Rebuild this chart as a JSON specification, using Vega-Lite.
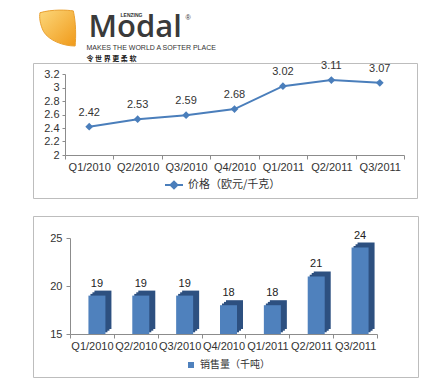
{
  "$schema": "https://vega.github.io/schema/vega-lite/v6.json",
  "padding": {"left": 32, "top": 8, "right": 0, "bottom": 0},
  "background": "white",
  "config": {
    "view": {"stroke": null},
    "font": "Liberation Sans",
    "axis": {"labelFont": "Liberation Sans", "labelFontSize": 11, "labelColor": "#333333", "domainColor": "#8c8c8c", "tickColor": "#8c8c8c", "grid": false},
    "legend": {"labelFont": "Noto Sans CJK SC", "labelFontSize": 11, "labelColor": "#333333", "padding": 0}
  },
  "datasets": {
    "price": [
      {"q": "Q1/2010", "price": 2.42},
      {"q": "Q2/2010", "price": 2.53},
      {"q": "Q3/2010", "price": 2.59},
      {"q": "Q4/2010", "price": 2.68},
      {"q": "Q1/2011", "price": 3.02},
      {"q": "Q2/2011", "price": 3.11},
      {"q": "Q3/2011", "price": 3.07}
    ],
    "sales": [
      {"q": "Q1/2010", "sales": 19},
      {"q": "Q2/2010", "sales": 19},
      {"q": "Q3/2010", "sales": 19},
      {"q": "Q4/2010", "sales": 18},
      {"q": "Q1/2011", "sales": 18},
      {"q": "Q2/2011", "sales": 21},
      {"q": "Q3/2011", "sales": 24}
    ],
    "logo": [{"logo": "Modal"}]
  },
  "spacing": -3,
  "resolve": {"scale": {"color": "independent"}, "legend": {"color": "independent"}},
  "vconcat": [
    {
      "width": 385, "height": 46,
      "data": {"name": "logo"},
      "layer": [
        {"mark": {"type": "point", "shape": "M-1,-0.85C-0.3,-1.05 0.5,-1 0.85,-0.95C1,-0.3 1,0.5 0.95,1C0.3,1 -0.5,0.7 -0.8,0.2C-1,-0.2 -1.05,-0.6 -1,-0.85Z", "size": 1296, "filled": true, "opacity": 1,
          "xOffset": -167.5, "yOffset": -6,
          "color": {"gradient": "linear", "x1": 0, "y1": 0, "x2": 1, "y2": 1, "stops": [{"offset": 0, "color": "#fcd77a"}, {"offset": 1, "color": "#f09a1a"}]},
          "stroke": "#e9a030", "strokeWidth": 1}},
        {"mark": {"type": "rule", "color": "#ffffff", "strokeWidth": 1.2, "xOffset": -183, "x2Offset": -154, "yOffset": -10, "y2Offset": -11}, "encoding": {}},
        {"mark": {"type": "rule", "color": "#ffffff", "strokeWidth": 1.2, "xOffset": -182, "x2Offset": -154, "yOffset": 0, "y2Offset": -1}, "encoding": {}},
        {"mark": {"type": "text", "text": "Modal", "align": "left", "baseline": "alphabetic", "dx": -137, "dy": 3, "font": "Open Sans", "fontSize": 31, "fontWeight": 600, "color": "#3a3a3a"}},
        {"mark": {"type": "text", "text": "LENZING", "align": "center", "baseline": "middle", "dx": -94, "dy": -19.5, "font": "Liberation Sans", "fontSize": 5, "fontWeight": "bold", "color": "#333333"}},
        {"mark": {"type": "text", "text": "®", "align": "left", "baseline": "middle", "dx": -40, "dy": -16, "font": "Liberation Sans", "fontSize": 7, "color": "#333333"}},
        {"mark": {"type": "text", "text": "MAKES THE WORLD A SOFTER PLACE", "align": "left", "baseline": "middle", "dx": -139, "dy": 13.5, "font": "Liberation Sans", "fontSize": 7, "color": "#333333"}},
        {"mark": {"type": "text", "text": "令 世 界 更 柔 软", "align": "left", "baseline": "middle", "dx": -139, "dy": 25, "font": "Noto Sans CJK SC", "fontSize": 7, "fontWeight": "bold", "color": "#222222"}}
      ]
    },
    {
      "spacing": 16,
      "resolve": {"scale": {"color": "independent"}, "legend": {"color": "independent"}},
      "vconcat": [
        {
          "width": 384, "height": 135,
          "view": {"stroke": "#bdbdbd"},
          "data": {"name": "price"},
          "encoding": {
            "x": {"field": "q", "type": "nominal", "sort": null,
              "scale": {"type": "band", "domain": ["Q1/2010", "Q2/2010", "Q3/2010", "Q4/2010", "Q1/2011", "Q2/2011", "Q3/2011"], "range": [32, 371], "paddingInner": 0, "paddingOuter": 0},
              "axis": {"title": null, "offset": -43, "labelAngle": 0, "tickBand": "extent", "tickSize": 4, "labelPadding": 2}},
            "y": {"field": "price", "type": "quantitative",
              "scale": {"domain": [2, 3.2], "range": [92, 11], "zero": false, "nice": false},
              "axis": {"title": null, "offset": -32, "values": [2, 2.2, 2.4, 2.6, 2.8, 3, 3.2], "format": "~g", "tickSize": 3, "labelPadding": 3}}
          },
          "layer": [
            {"mark": {"type": "line", "strokeWidth": 2},
             "encoding": {"color": {"datum": "价格（欧元/千克）", "type": "nominal", "scale": {"range": ["#4a7ebb"]},
               "legend": {"title": null, "orient": "none", "legendX": 131, "legendY": 112, "symbolType": "M-1,0L1,0M-0.38,0L0,-0.38L0.38,0L0,0.38Z", "symbolSize": 324, "symbolStrokeWidth": 2, "symbolFillColor": "#4a7ebb", "labelOffset": 4}}}},
            {"mark": {"type": "point", "shape": "diamond", "filled": true, "size": 60, "opacity": 1, "color": "#4a7ebb"}},
            {"mark": {"type": "text", "dy": -14, "fontSize": 11, "color": "#333333"},
             "encoding": {"text": {"field": "price", "type": "quantitative", "format": ".2f"}}}
          ]
        },
        {
          "width": 385, "height": 161,
          "view": {"stroke": "#bdbdbd"},
          "data": {"name": "sales"},
          "encoding": {
            "x": {"field": "q", "type": "nominal", "sort": null,
              "scale": {"type": "band", "domain": ["Q1/2010", "Q2/2010", "Q3/2010", "Q4/2010", "Q1/2011", "Q2/2011", "Q3/2011"], "range": [37, 344], "paddingInner": 0, "paddingOuter": 0},
              "axis": {"title": null, "offset": -43, "labelAngle": 0, "tickBand": "extent", "tickSize": 4, "labelPadding": 2}},
            "y": {"field": "sales", "type": "quantitative",
              "scale": {"domain": [15, 25], "range": [118, 22], "zero": false, "nice": false},
              "axis": {"title": null, "offset": -37, "values": [15, 20, 25], "tickSize": 4, "labelPadding": 4}}
          },
          "layer": [
            {"data": {"values": [{"floor": "back"}]},
             "mark": {"type": "rule", "color": "#c4c4c4", "xOffset": -5.9, "x2Offset": 37.9, "yOffset": -10},
             "encoding": {"x": {"datum": "Q1/2010"}, "x2": {"datum": "Q3/2011"}, "y": {"datum": 15}}},
            {"data": {"values": [{"floor": "left"}]},
             "mark": {"type": "rule", "color": "#c4c4c4", "xOffset": -21.9, "x2Offset": -5.9, "y2Offset": -10},
             "encoding": {"x": {"datum": "Q1/2010"}, "x2": {"datum": "Q1/2010"}, "y": {"datum": 15}, "y2": {"datum": 15}}},
            {"data": {"values": [{"floor": "right"}]},
             "mark": {"type": "rule", "color": "#c4c4c4", "xOffset": 21.9, "x2Offset": 37.9, "y2Offset": -10},
             "encoding": {"x": {"datum": "Q3/2011"}, "x2": {"datum": "Q3/2011"}, "y": {"datum": 15}, "y2": {"datum": 15}}},
            {"mark": {"type": "bar", "width": 17, "xOffset": 7, "yOffset": -1.7, "y2Offset": -1.7, "color": "#2d5080"},
             "encoding": {"y2": {"datum": 15}}},
            {"mark": {"type": "bar", "width": 17, "xOffset": 9, "yOffset": -3.3, "y2Offset": -3.3, "color": "#2d5080"},
             "encoding": {"y2": {"datum": 15}}},
            {"mark": {"type": "bar", "width": 17, "xOffset": 11, "yOffset": -5, "y2Offset": -5, "color": "#2d5080"},
             "encoding": {"y2": {"datum": 15}}},
            {"mark": {"type": "bar", "width": 17, "xOffset": 5},
             "encoding": {"y2": {"datum": 15},
               "color": {"datum": "销售量（千吨）", "type": "nominal", "scale": {"range": ["#4f81bd"]},
                 "legend": {"title": null, "orient": "none", "legendX": 153, "legendY": 144, "symbolType": "square", "symbolSize": 36, "labelFontSize": 10, "labelOffset": 4}}}},
            {"mark": {"type": "text", "dx": 5, "dy": -12, "fontSize": 11, "color": "#222222"},
             "encoding": {"text": {"field": "sales", "type": "quantitative"}}}
          ]
        }
      ]
    }
  ]
}
